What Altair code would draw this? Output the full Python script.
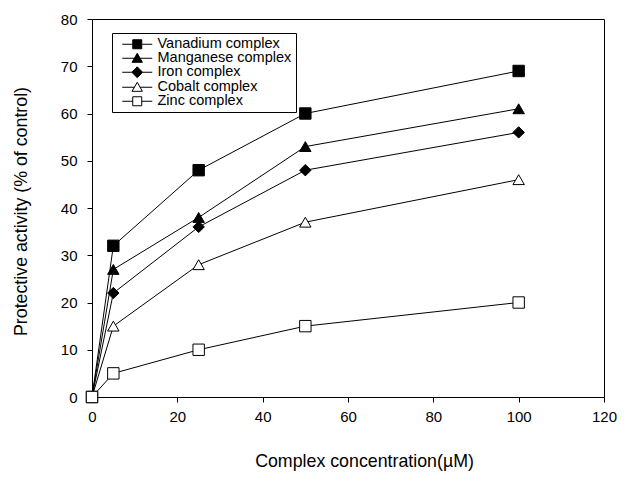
import altair as alt
import pandas as pd

# ---- data ----
x_vals = [0, 5, 25, 50, 100]
series_names = ["Vanadium complex", "Manganese complex", "Iron complex",
                "Cobalt complex", "Zinc complex"]
vanadium = [0, 32, 48, 60, 69]
manganese = [0, 27, 38, 53, 61]
iron = [0, 22, 36, 48, 56]
cobalt = [0, 15, 28, 37, 46]
zinc = [0, 5, 10, 15, 20]
x_ticks = [0, 20, 40, 60, 80, 100, 120]
y_ticks = [0, 10, 20, 30, 40, 50, 60, 70, 80]

rows = []
for name, ys in zip(series_names, [vanadium, manganese, iron, cobalt, zinc]):
    for x, y in zip(x_vals, ys):
        rows.append({"series": name, "conc": x, "activity": y})
df = pd.DataFrame(rows)

plot_shapes = ["square", "triangle-up", "diamond", "triangle-up", "square"]
fills = ["black", "black", "black", "white", "white"]
strokes = ["black", "black", "black", "black", "black"]
# legend symbols: marker with a short line through it
legend_shapes = [
    "M0,0H2.33M4.33,0H6.67M2.33,-1H4.33V1H2.33Z",
    "M0,0H2.7M3.96,0H6.67M3.33,-1.1L4.48,0.9H2.18Z",
    "M0,0H2.13M4.53,0H6.67M3.33,-1.2L4.53,0L3.33,1.2L2.13,0Z",
    "M0,0H2.7M3.96,0H6.67M3.33,-1.1L4.48,0.9H2.18Z",
    "M0,0H2.33M4.33,0H6.67M2.33,-1H4.33V1H2.33Z",
]

FONT = "Liberation Sans"

x_enc = alt.X("conc:Q",
              scale=alt.Scale(domain=[0, 120], nice=False, zero=False),
              axis=alt.Axis(values=x_ticks, title="Complex concentration(\u00b5M)",
                            titleX=272, titleY=69, titleAlign="center",
                            titleBaseline="alphabetic", labelPadding=7,
                            labelFlush=False))
y_enc = alt.Y("activity:Q",
              scale=alt.Scale(domain=[0, 80], nice=False, zero=False),
              axis=alt.Axis(values=y_ticks, title="Protective activity (% of control)",
                            titleX=-66, titleY=192, titleAngle=270,
                            titleAlign="center", titleBaseline="alphabetic",
                            labelPadding=10, labelFlush=False))

base = alt.Chart(df)

lines = base.mark_line(color="black", strokeWidth=1).encode(
    x=x_enc, y=y_enc, detail="series:N",
    order="conc:Q",
)

points = base.mark_point(filled=True, stroke="black", strokeWidth=1,
                         size=130, opacity=1).encode(
    x=x_enc, y=y_enc,
    shape=alt.Shape("series:N", scale=alt.Scale(domain=series_names, range=plot_shapes),
                    legend=None),
    fill=alt.Fill("series:N", scale=alt.Scale(domain=series_names, range=fills),
                  legend=None),
)

leg = alt.Legend(title=None, orient="none", legendX=20, legendY=14,
                 strokeColor="black", fillColor="white",
                 padding=4, symbolOffset=-1, labelOffset=28,
                 rowPadding=-1, symbolOpacity=1,
                 symbolStrokeColor="black", symbolStrokeWidth=1,
                 symbolSize=81,
                 labelFontSize=14.5, labelFont=FONT,
                 labelColor="black")

legend_layer = base.mark_point(filled=True, strokeWidth=1,
                               size=81, opacity=0).encode(
    x=x_enc, y=y_enc,
    shape=alt.Shape("series:N", scale=alt.Scale(domain=series_names, range=legend_shapes),
                    legend=leg),
    fill=alt.Fill("series:N", scale=alt.Scale(domain=series_names, range=fills),
                  legend=leg),
    stroke=alt.Stroke("series:N", scale=alt.Scale(domain=series_names, range=strokes),
                      legend=leg),
)

chart = alt.layer(lines, points, legend_layer).resolve_scale(
    shape="independent", fill="independent", stroke="independent"
).properties(
    width=512, height=378,
    autosize=alt.AutoSizeParams(type="none"),
    padding={"left": 84, "top": 11, "right": 13, "bottom": 80},
    background="white",
).configure_view(
    stroke="black", strokeWidth=1
).configure_axis(
    grid=False, domainColor="black", tickColor="black", tickSize=5,
    labelFont=FONT, labelFontSize=15, labelColor="black",
    titleFont=FONT, titleFontSize=17.8, titleFontWeight="normal", titleColor="black",
    domainWidth=1, tickWidth=1,
)

chart.save("out.html", embed_options={"renderer": "svg", "actions": False})
